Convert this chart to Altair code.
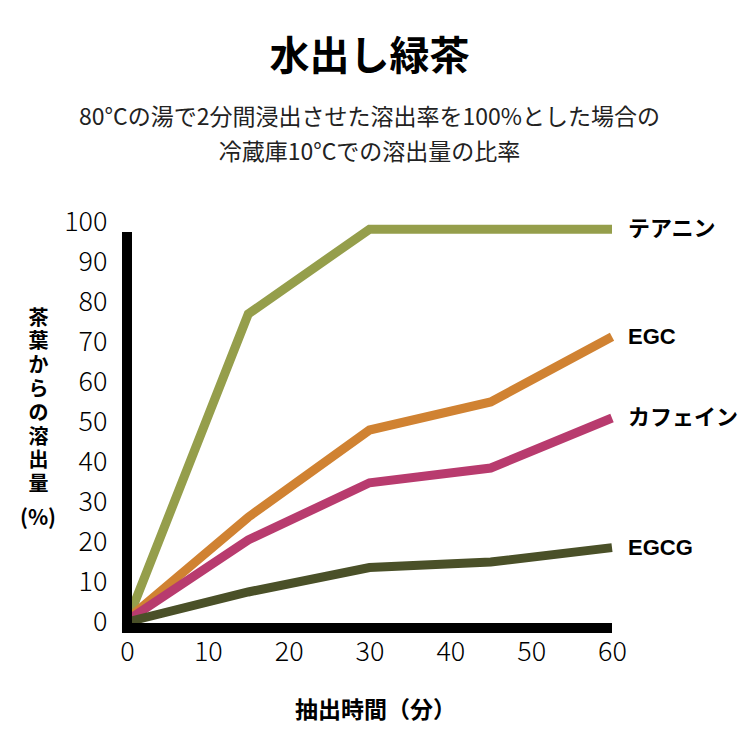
import altair as alt
import pandas as pd

# ---- data ----
times = [0, 15, 30, 45, 60]
series_names = ["テアニン", "EGC", "カフェイン", "EGCG"]
theanine = [0, 77, 98.2, 98.2, 98.2]
egc = [0.6, 26.2, 48, 55, 71.3]
caffeine = [0.3, 20.5, 34.8, 38.5, 51]
egcg = [0, 7.5, 13.6, 15, 18.6]
colors = ["#959e4b", "#d08232", "#b83b6e", "#4a5028"]
x_ticks = [0, 10, 20, 30, 40, 50, 60]
y_ticks = [0, 10, 20, 30, 40, 50, 60, 70, 80, 90, 100]

title_text = "水出し緑茶"
subtitle_lines = ["80°Cの湯で2分間浸出させた溶出率を100%とした場合の", "冷蔵庫10°Cでの溶出量の比率"]
x_title = "抽出時間（分）"
y_title_chars = ["茶", "葉", "か", "ら", "の", "溶", "出", "量"]
y_unit = "(%)"

FONT = "Noto Sans CJK JP"
LABEL_FONT = "Liberation Sans, Noto Sans CJK JP"

values = [theanine, egc, caffeine, egcg]

x_scale = alt.Scale(domain=[0, 60], nice=False)
y_scale = alt.Scale(domain=[0, 100], nice=False)

x_axis = alt.Axis(values=x_ticks, title=x_title, domain=False, ticks=False, tickSize=0,
                  grid=False, labelFontSize=27, labelFont=FONT, labelFontWeight=300,
                  labelColor="#000", labelPadding=17, labelFlush=False, labelOverlap=False,
                  titleFont=FONT, titleFontSize=23, titleX=248, titleAlign="center",
                  titleFontWeight="bold", titleColor="#000", titlePadding=34)
y_axis = alt.Axis(values=y_ticks, title=y_title_chars, domain=False, ticks=False, tickSize=0,
                  grid=False, labelFontSize=27, labelFont=FONT, labelFontWeight=300,
                  labelColor="#000", labelPadding=20, labelFlush=False, labelOverlap=False,
                  titleFont=FONT, titleFontSize=20,
                  titleFontWeight="bold", titleColor="#000", titleAngle=0,
                  titleAlign="center", titleBaseline="top", titleX=-89, titleY=86,
                  titleLineHeight=23.8)

layers = []
for name, vals, col in zip(series_names, values, colors):
    df = pd.DataFrame({"t": times, "v": vals, "s": name})
    layers.append(
        alt.Chart(df).mark_line(strokeWidth=9, strokeCap="butt", strokeJoin="miter", color=col).encode(
            x=alt.X("t:Q", scale=x_scale, axis=x_axis),
            y=alt.Y("v:Q", scale=y_scale, axis=y_axis),
        )
    )

last_df = pd.DataFrame({"t": [times[-1]] * 4, "v": [v[-1] for v in values], "s": series_names})
labels = alt.Chart(last_df).mark_text(align="left", baseline="middle", dx=16, fontSize=22,
                                      font=LABEL_FONT, fontWeight="bold", color="#000").encode(
    x=alt.X("t:Q", scale=x_scale, axis=x_axis), y=alt.Y("v:Q", scale=y_scale, axis=y_axis), text="s:N")

unit_df = pd.DataFrame({"u": [y_unit]})
unit = alt.Chart(unit_df).mark_text(align="center", baseline="middle", fontSize=21, font=FONT,
                                    fontWeight="bold", color="#000").encode(
    x=alt.value(-89), y=alt.value(297), text="u:N")

yaxis_line = alt.Chart(unit_df).mark_rule(color="#000", strokeWidth=10, strokeCap="butt").encode(
    x=alt.XDatum(0, scale=x_scale, axis=x_axis), y=alt.YDatum(-2.75, scale=y_scale, axis=y_axis),
    y2=alt.datum(97.5))
xaxis_line = alt.Chart(unit_df).mark_rule(color="#000", strokeWidth=10, strokeCap="butt").encode(
    y=alt.YDatum(-1.5, scale=y_scale, axis=y_axis), x=alt.XDatum(-0.62, scale=x_scale, axis=x_axis),
    x2=alt.datum(60))

chart = alt.layer(*layers, labels, unit, yaxis_line, xaxis_line).properties(
    width=485, height=400,
    autosize=alt.AutoSizeParams(type="none"),
    padding={"left": 119, "top": 214, "right": 130, "bottom": 120},
    title=alt.TitleParams(text=title_text, subtitle=subtitle_lines, fontSize=40, font=FONT,
                          fontWeight="bold", color="#000", subtitleFont=FONT, subtitleFontSize=23,
                          subtitleColor="#222", subtitleLineHeight=35, subtitlePadding=29,
                          anchor="middle", frame="group", offset=43),
).configure_view(stroke=None).configure_axis(labelOverlap=False, labelFlush=False)

chart.save("out.html", embed_options={"renderer": "svg", "actions": False})
